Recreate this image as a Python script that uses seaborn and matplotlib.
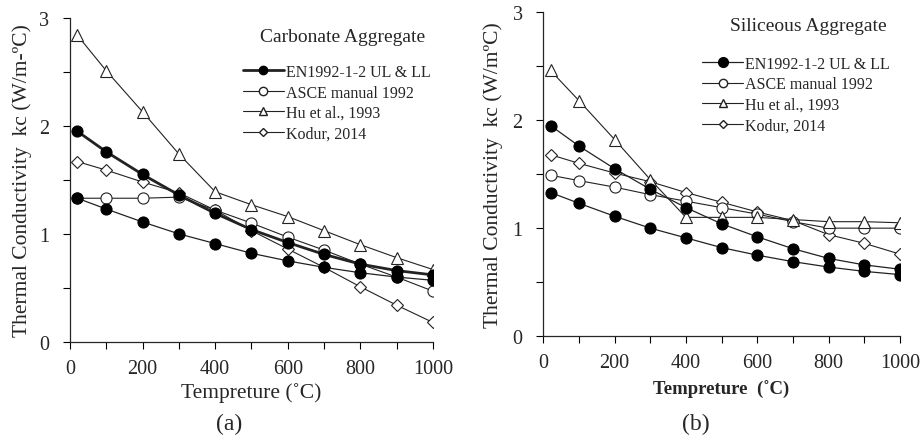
import numpy as np
import pandas as pd
import matplotlib
matplotlib.use("Agg")
import matplotlib.pyplot as plt
import seaborn as sns
from matplotlib.lines import Line2D

# =========================
# Data
# =========================

temps = [20, 100, 200, 300, 400, 500, 600, 700, 800, 900, 1000]

en_ul = [1.95, 1.76, 1.55, 1.36, 1.19, 1.04, 0.92, 0.81, 0.72, 0.66, 0.62]
en_ll = [1.33, 1.23, 1.11, 1.00, 0.91, 0.82, 0.75, 0.69, 0.64, 0.60, 0.57]

carb_asce = [1.33, 1.33, 1.33, 1.34, 1.22, 1.10, 0.97, 0.85, 0.72, 0.60, 0.47]
carb_hu = [2.84, 2.51, 2.13, 1.74, 1.39, 1.27, 1.16, 1.03, 0.90, 0.78, 0.67]
carb_kodur = [1.67, 1.59, 1.48, 1.38, 1.22, 1.03, 0.86, 0.69, 0.51, 0.34, 0.18]

sil_asce = [1.49, 1.44, 1.38, 1.31, 1.25, 1.19, 1.13, 1.06, 1.00, 1.00, 1.00]
sil_hu = [2.46, 2.18, 1.82, 1.45, 1.10, 1.10, 1.10, 1.08, 1.06, 1.06, 1.05]
sil_kodur = [1.68, 1.60, 1.51, 1.43, 1.33, 1.24, 1.15, 1.07, 0.94, 0.86, 0.76]

labels = ["EN1992-1-2 UL & LL", "ASCE manual 1992", "Hu et al., 1993", "Kodur, 2014"]

# =========================
# Style
# =========================

sns.set_style("ticks")
plt.rcParams['font.family'] = ['Liberation Serif', 'DejaVu Serif']

fig = plt.figure(figsize=(9.21, 4.39), dpi=100)
ax1 = fig.add_axes([0.076, 0.219, 0.394, 0.738])
ax2 = fig.add_axes([0.590, 0.232, 0.387, 0.738])

lc = "#222222"


def draw(ax, asce, hu, kodur, en_lw):
    df = pd.DataFrame({"T": temps, "ul": en_ul, "ll": en_ll,
                       "asce": asce, "hu": hu, "kodur": kodur})
    sns.lineplot(data=df, x="T", y="kodur", ax=ax, color=lc, lw=0.8,
                 marker="D", markersize=6, mfc="white", mec=lc, mew=0.8)
    sns.lineplot(data=df, x="T", y="asce", ax=ax, color=lc, lw=0.8,
                 marker="o", markersize=8, mfc="white", mec=lc, mew=0.8)
    sns.lineplot(data=df, x="T", y="hu", ax=ax, color=lc, lw=0.8,
                 marker="^", markersize=9, mfc="white", mec=lc, mew=0.8)
    sns.lineplot(data=df, x="T", y="ll", ax=ax, color=lc, lw=0.9,
                 marker="o", markersize=8, mfc="black", mec="black")
    sns.lineplot(data=df, x="T", y="ul", ax=ax, color=lc, lw=en_lw,
                 marker="o", markersize=8, mfc="black", mec="black")

    ax.set_xlim(0, 1000)
    ax.set_ylim(0, 3)
    ax.set_xticks(np.arange(0, 1001, 200))
    ax.set_xticks(np.arange(0, 1001, 100), minor=True)
    ax.set_yticks([0, 1, 2, 3])
    ax.set_yticks([0.5, 1.5, 2.5], minor=True)
    ax.tick_params(axis="both", which="both", direction="out", length=5,
                   width=0.8, labelsize=14.5, color="black")
    ax.tick_params(axis="x", which="major", pad=7)
    ax.tick_params(axis="y", which="major", pad=10)
    for s in ["top", "right"]:
        ax.spines[s].set_visible(False)
    for s in ["left", "bottom"]:
        ax.spines[s].set_linewidth(0.9)
    ax.grid(False)

    handles = [
        Line2D([], [], color=lc, lw=en_lw, marker="o", markersize=6 if en_lw > 1 else 7,
               mfc="black", mec="black"),
        Line2D([], [], color=lc, lw=0.8, marker="o", markersize=6, mfc="white", mec=lc),
        Line2D([], [], color=lc, lw=0.8, marker="^", markersize=6, mfc="white", mec=lc),
        Line2D([], [], color=lc, lw=0.8, marker="D", markersize=4, mfc="white", mec=lc),
    ]
    return handles


h1 = draw(ax1, carb_asce, carb_hu, carb_kodur, 2.0)
h2 = draw(ax2, sil_asce, sil_hu, sil_kodur, 0.9)

# =========================
# Labels
# =========================

ax1.set_xlabel("Tempreture (˚C)", fontsize=15.5, labelpad=3)
ax1.set_ylabel("Thermal Conductivity  kc (W/m-ºC)", fontsize=15.5, labelpad=5)
ax2.set_xlabel("Tempreture  (˚C)", fontsize=13.5, fontweight="bold", labelpad=6)
ax2.set_ylabel("Thermal Conductivity  kc (W/mºC)", fontsize=15.5, labelpad=7)

ax1.text(0.75, 0.942, "Carbonate Aggregate", transform=ax1.transAxes,
         ha="center", va="center", fontsize=14)
ax2.text(0.744, 0.958, "Siliceous Aggregate", transform=ax2.transAxes,
         ha="center", va="center", fontsize=14)

leg_kw = dict(frameon=False, fontsize=11.5, handlelength=2.6, handletextpad=0.1,
              labelspacing=0.28, borderpad=0.2)
ax1.legend(h1, labels, loc="upper left", bbox_to_anchor=(0.445, 0.892), **leg_kw)
ax2.legend(h2, labels, loc="upper left", bbox_to_anchor=(0.413, 0.90), **leg_kw)

fig.text(0.249, 0.032, "(a)", ha="center", va="center", fontsize=17)
fig.text(0.755, 0.032, "(b)", ha="center", va="center", fontsize=17)

plt.savefig("out.png", dpi=100)
